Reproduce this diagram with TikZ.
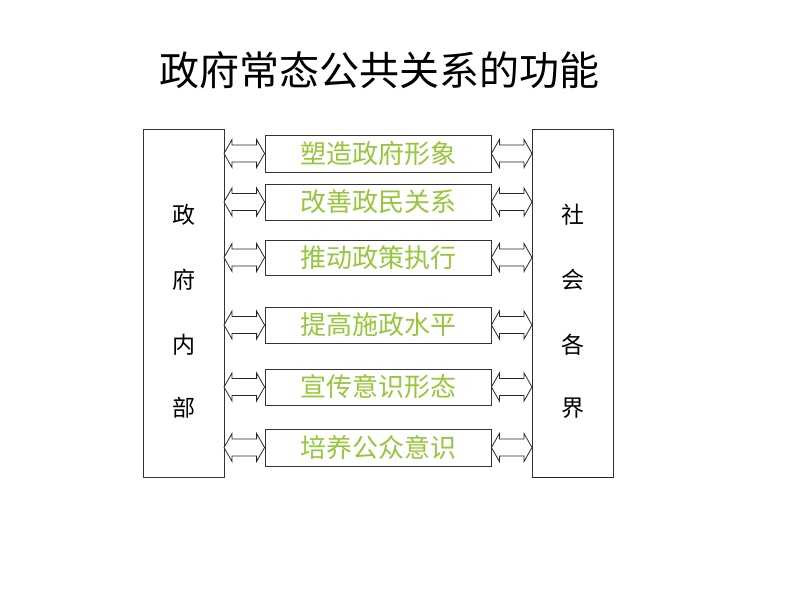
\documentclass[tikz,border=0pt]{standalone}
\usepackage{fontspec}
\newfontfamily\cjk{Noto Sans CJK SC}
\usetikzlibrary{calc}
\definecolor{txtgreen}{RGB}{150,198,60}
\tikzset{
  sidebox/.style={draw=black!80, line width=0.8pt, inner sep=0pt},
  midbox/.style={draw=black!80, line width=0.8pt, minimum width=226pt, inner sep=0pt,
     font=\cjk\fontsize{26}{30}\selectfont, text=txtgreen},
  sidetext/.style={font=\cjk\fontsize{23}{28}\selectfont, inner sep=0pt},
  blockarrow/.style={draw=black!85, line width=0.8pt, fill=white},
}
\newcommand{\dblarrow}[2]{%
  \draw[blockarrow] let \p1=#1, \p2=#2 in
    (\x1,\y2) -- (\x1+8pt,\y2+14pt) -- (\x1+8pt,\y2+8.5pt) -- (\x2-8pt,\y2+8.5pt)
    -- (\x2-8pt,\y2+14pt) -- (\x2,\y2) -- (\x2-8pt,\y2-14pt) -- (\x2-8pt,\y2-8.5pt)
    -- (\x1+8pt,\y2-8.5pt) -- (\x1+8pt,\y2-14pt) -- cycle;}
\begin{document}
\begin{tikzpicture}[x=1pt,y=-1pt]
\useasboundingbox (0,0) rectangle (800,600);
\node[font=\cjk\fontsize{40}{44}\selectfont, inner sep=0pt] (title) at (379,70) {政府常态公共关系的功能};
% side boxes
\draw[sidebox] (143,129) rectangle (224,477);
\coordinate (Lr) at (224,300);
\draw[sidebox] (532,129) rectangle (613,477);
\draw[line width=1.4pt, black!85] (532,477.5) -- (613,477.5);
\coordinate (Rl) at (532,300);
\node[sidetext] (l1) at (183.5,215) {政};
\node[sidetext] (l2) at (183.5,280) {府};
\node[sidetext] (l3) at (183.5,345) {内};
\node[sidetext] (l4) at (183.5,408) {部};
\node[sidetext] (r1) at (572.5,215) {社};
\node[sidetext] (r2) at (572.5,280) {会};
\node[sidetext] (r3) at (572.5,345) {各};
\node[sidetext] (r4) at (572.5,408) {界};
% middle boxes
\node[midbox, minimum height=37pt] (b1) at (378,153.5) {塑造政府形象};
\node[midbox, minimum height=36pt] (b2) at (378,202) {改善政民关系};
\node[midbox, minimum height=35pt] (b3) at (378,257.5) {推动政策执行};
\node[midbox, minimum height=36pt] (b4) at (378,325) {提高施政水平};
\node[midbox, minimum height=36pt] (b5) at (378,387) {宣传意识形态};
\node[midbox, minimum height=37pt] (b6) at (378,447.5) {培养公众意识};
\foreach \b in {b1,b2,b3,b4,b5,b6}{
  \dblarrow{(Lr)}{(\b.west)}
  \dblarrow{(\b.east)}{(Rl |- \b.east)}
}
\end{tikzpicture}
\end{document}
